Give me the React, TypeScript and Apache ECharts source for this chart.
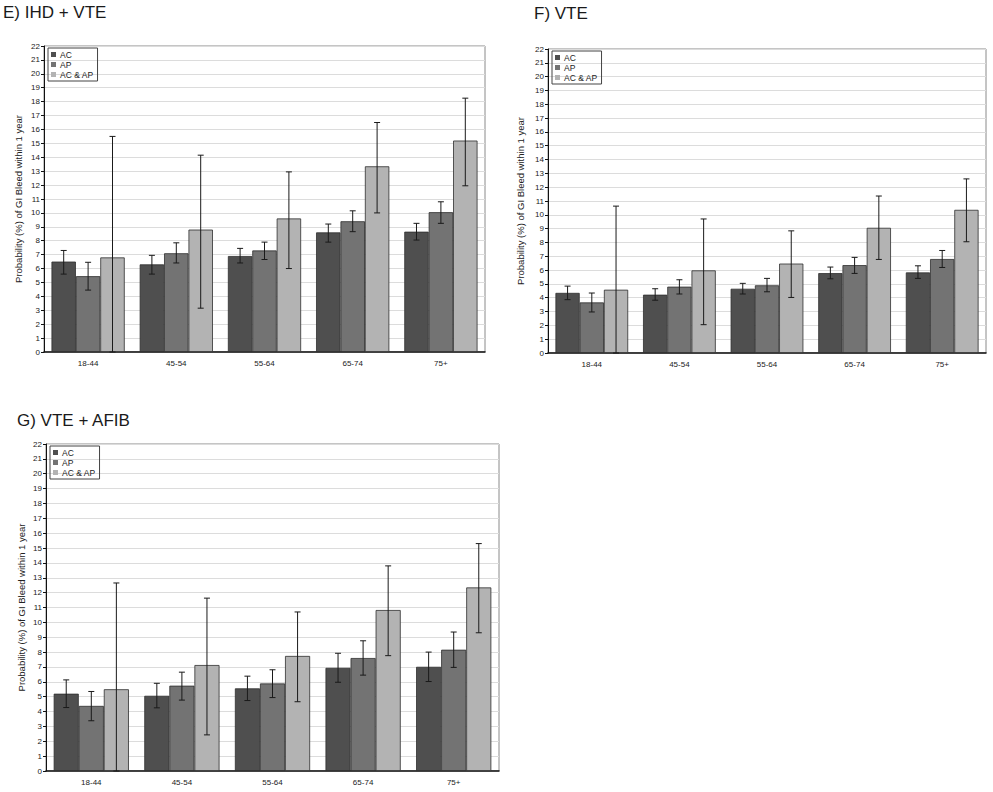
import React, { useEffect, useRef } from "react";
import * as echarts from "echarts";

const categories = ["18-44", "45-54", "55-64", "65-74", "75+"];
const seriesNames = ["AC", "AP", "AC & AP"];
const yTicks = [0, 22, 1];

// Panel E) IHD + VTE
const eAC = [6.5, 6.3, 6.9, 8.6, 8.65];
const eACLow = [5.6, 5.6, 6.4, 7.9, 8.05];
const eACHigh = [7.3, 6.95, 7.45, 9.2, 9.25];
const eAP = [5.45, 7.1, 7.3, 9.4, 10.05];
const eAPLow = [4.45, 6.4, 6.65, 8.65, 9.25];
const eAPHigh = [6.45, 7.85, 7.9, 10.15, 10.8];
const eBoth = [6.8, 8.8, 9.6, 13.35, 15.2];
const eBothLow = [0, 3.15, 6.0, 10.0, 11.95];
const eBothHigh = [15.5, 14.15, 12.95, 16.5, 18.25];

// Panel F) VTE
const fAC = [4.35, 4.22, 4.65, 5.78, 5.83];
const fACLow = [3.86, 3.82, 4.27, 5.37, 5.4];
const fACHigh = [4.84, 4.65, 5.04, 6.22, 6.31];
const fAP = [3.66, 4.8, 4.9, 6.36, 6.8];
const fAPLow = [2.97, 4.27, 4.43, 5.76, 6.19];
const fAPHigh = [4.34, 5.3, 5.4, 6.92, 7.42];
const fBoth = [4.58, 5.98, 6.47, 9.06, 10.36];
const fBothLow = [0, 2.05, 4.02, 6.77, 8.05];
const fBothHigh = [10.63, 9.7, 8.84, 11.36, 12.6];

// Panel G) VTE + AFIB
const gAC = [5.2, 5.06, 5.56, 6.94, 7.01];
const gACLow = [4.27, 4.25, 4.74, 5.97, 6.02];
const gACHigh = [6.13, 5.9, 6.38, 7.92, 8.0];
const gAP = [4.38, 5.74, 5.89, 7.6, 8.16];
const gAPLow = [3.38, 4.77, 4.94, 6.45, 6.97];
const gAPHigh = [5.35, 6.65, 6.81, 8.76, 9.35];
const gBoth = [5.5, 7.13, 7.74, 10.83, 12.35];
const gBothLow = [0, 2.43, 4.66, 7.76, 9.3];
const gBothHigh = [12.65, 11.63, 10.7, 13.8, 15.3];

const titles = ["E) IHD + VTE", "F) VTE", "G) VTE + AFIB"];
const yName = "Probability (%) of GI Bleed within 1 year";

const panels = [
  {
    vals: [eAC, eAP, eBoth],
    lows: [eACLow, eAPLow, eBothLow],
    highs: [eACHigh, eAPHigh, eBothHigh],
  },
  {
    vals: [fAC, fAP, fBoth],
    lows: [fACLow, fAPLow, fBothLow],
    highs: [fACHigh, fAPHigh, fBothHigh],
  },
  {
    vals: [gAC, gAP, gBoth],
    lows: [gACLow, gAPLow, gBothLow],
    highs: [gACHigh, gAPHigh, gBothHigh],
  },
];

const layout = [
  { left: 44, top: 46, width: 441, height: 306, tx: 3, ty: 4, nameGap: 21 },
  { left: 548, top: 49, width: 438, height: 304, tx: 534, ty: 5, nameGap: 23 },
  { left: 46, top: 444, width: 453, height: 327, tx: 17, ty: 412, nameGap: 20 },
];

const colors = ["#4f4f4f", "#737373", "#b3b3b3"];
const GAP = 0.17;
const FONT = "Liberation Sans, Arial, sans-serif";

export default function App() {
  const ref = useRef<HTMLDivElement>(null);
  useEffect(() => {
    if (!ref.current) return;
    const chart = echarts.init(ref.current, null, { renderer: "svg" });
    const grid: any[] = [];
    const xAxis: any[] = [];
    const yAxis: any[] = [];
    const legend: any[] = [];
    const title: any[] = [];
    const series: any[] = [];

    layout.forEach((L, p) => {
      grid.push({
        left: L.left,
        top: L.top,
        width: L.width,
        height: L.height,
        show: true,
        borderColor: "#8a8a8a",
        borderWidth: 1,
        backgroundColor: "#fff",
      });
      title.push({
        text: titles[p],
        left: L.tx,
        top: L.ty,
        padding: 0,
        textStyle: { fontSize: 17, fontWeight: "normal", color: "#1a1a1a", fontFamily: FONT },
      });
      xAxis.push({
        type: "category",
        gridIndex: p,
        data: categories,
        axisLine: { lineStyle: { color: "#111", width: 1.5 } },
        axisTick: { alignWithLabel: true, length: 3, lineStyle: { color: "#111" } },
        axisLabel: { fontSize: 8, color: "#222", margin: 7, fontFamily: FONT },
      });
      yAxis.push({
        type: "value",
        gridIndex: p,
        min: yTicks[0],
        max: yTicks[1],
        interval: yTicks[2],
        name: yName,
        nameLocation: "middle",
        nameGap: L.nameGap,
        nameTextStyle: { fontSize: 9.5, color: "#222", fontFamily: FONT },
        axisLine: { show: true, lineStyle: { color: "#111" } },
        axisTick: { show: true, length: 3, lineStyle: { color: "#111" } },
        axisLabel: { fontSize: 8, color: "#222", margin: 4, fontFamily: FONT },
        splitLine: { lineStyle: { color: "#dcdcdc", width: 1 } },
      });
      legend.push({
        data: seriesNames,
        orient: "vertical",
        left: L.left + 4,
        top: L.top + 2,
        itemWidth: 5,
        itemHeight: 5,
        itemGap: 1,
        padding: [2, 4, 2, 3],
        borderColor: "#444",
        borderWidth: 1,
        icon: "rect",
        itemStyle: { borderWidth: 0 },
        textStyle: { fontSize: 8.5, color: "#222", fontFamily: FONT, padding: [0, 0, 0, -1] },
      });
      const P = panels[p];
      seriesNames.forEach((nm, k) => {
        series.push({
          type: "bar",
          name: nm,
          xAxisIndex: p,
          yAxisIndex: p,
          data: P.vals[k],
          barGap: "0%",
          barCategoryGap: GAP * 100 + "%",
          itemStyle: { color: colors[k], borderColor: "#2e2e2e", borderWidth: 0.8 },
          z: 2,
        });
      });
      seriesNames.forEach((nm, k) => {
        const data = categories.map((_, i) => [i, P.lows[k][i], P.highs[k][i]]);
        series.push({
          type: "custom",
          name: nm + " CI",
          xAxisIndex: p,
          yAxisIndex: p,
          data,
          encode: { x: 0, y: [1, 2] },
          z: 5,
          renderItem: (params: any, api: any) => {
            const ci = api.value(0);
            const base = api.coord([ci, 0]);
            const band = api.size([1, 0])[0];
            const bw = (band * (1 - GAP)) / 3;
            const cx = base[0] + (k - 1) * bw;
            const yl = api.coord([ci, api.value(1)])[1];
            const yh = api.coord([ci, api.value(2)])[1];
            const cap = 3;
            const st = { stroke: "#1a1a1a", lineWidth: 1 };
            return {
              type: "group",
              children: [
                { type: "line", shape: { x1: cx, y1: yl, x2: cx, y2: yh }, style: st },
                { type: "line", shape: { x1: cx - cap, y1: yh, x2: cx + cap, y2: yh }, style: st },
                { type: "line", shape: { x1: cx - cap, y1: yl, x2: cx + cap, y2: yl }, style: st },
              ],
            };
          },
        });
      });
    });

    chart.setOption({
      animation: false,
      backgroundColor: "#fff",
      color: colors,
      textStyle: { fontFamily: FONT },
      title,
      grid,
      xAxis,
      yAxis,
      legend,
      series,
    });
    return () => chart.dispose();
  }, []);
  return (
    <div
      ref={ref}
      style={{ position: "absolute", left: 0, top: 0, width: 993, height: 792, background: "#fff" }}
    />
  );
}
